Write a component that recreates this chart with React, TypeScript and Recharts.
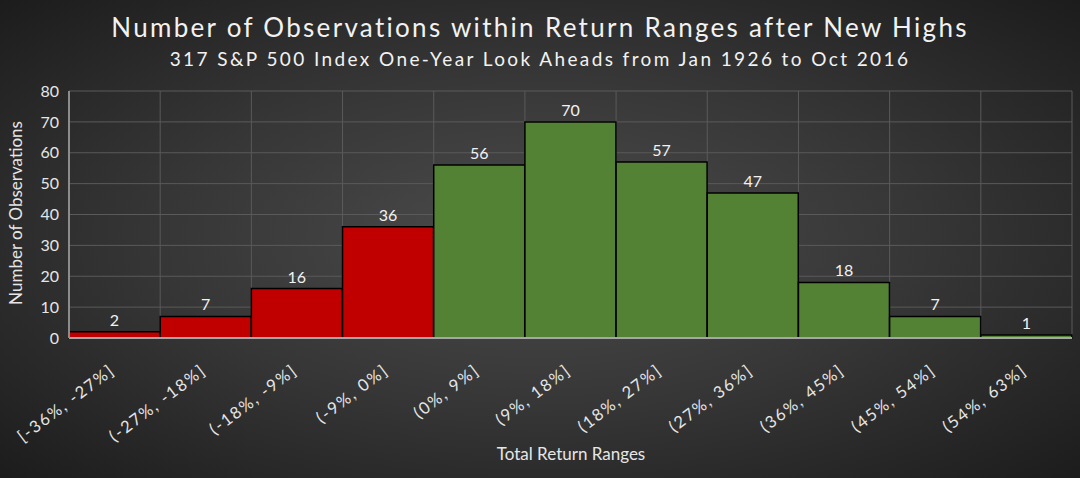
import React from 'react';
import {
  Bar,
  BarChart,
  CartesianGrid,
  Cell,
  LabelList,
  XAxis,
  YAxis
} from 'recharts';

const ranges = [
  '[-36%, -27%]',
  '(-27%, -18%]',
  '(-18%, -9%]',
  '(-9%, 0%]',
  '(0%, 9%]',
  '(9%, 18%]',
  '(18%, 27%]',
  '(27%, 36%]',
  '(36%, 45%]',
  '(45%, 54%]',
  '(54%, 63%]'
];
const observations = [2, 7, 16, 36, 56, 70, 57, 47, 18, 7, 1];
const yTicks = [0, 10, 20, 30, 40, 50, 60, 70, 80];

const data = ranges.map((range, i) => ({ range, count: observations[i] }));

const FONT = "Lato, 'Open Sans', sans-serif";

const RotatedTick = (props: any) => {
  const { x, y, payload } = props;
  return (
    <g transform={`translate(${x - 2},${y + 22}) rotate(-37)`}>
      <text
        x={0}
        y={0}
        dy="0.35em"
        textAnchor="end"
        fill="#e6e6e6"
        fontSize={16.5}
        fontFamily={FONT}
        letterSpacing={1.8}
      >
        {payload.value}
      </text>
    </g>
  );
};

const App: React.FC = () => {
  return (
    <div
      style={{
        position: 'absolute',
        left: 0,
        top: 0,
        width: 1080,
        height: 478,
        background: 'radial-gradient(ellipse at 50% 50%, #4c4c4c 0%, #363636 50%, #1c1c1c 100%)',
        fontFamily: FONT,
        overflow: 'hidden'
      }}
    >
      <div
        style={{
          position: 'absolute',
          top: 11,
          width: 1080,
          textAlign: 'center',
          color: '#f2f2f2',
          fontSize: 26,
          letterSpacing: 2.3
        }}
      >
        Number of Observations within Return Ranges after New Highs
      </div>
      <div
        style={{
          position: 'absolute',
          top: 47,
          width: 1080,
          textAlign: 'center',
          color: '#f2f2f2',
          fontSize: 19,
          letterSpacing: 2.4
        }}
      >
        317 S&amp;P 500 Index One-Year Look Aheads from Jan 1926 to Oct 2016
      </div>
      <div
        style={{
          position: 'absolute',
          left: 15,
          top: 213,
          transform: 'translate(-50%, -50%) rotate(-90deg)',
          whiteSpace: 'nowrap',
          color: '#e6e6e6',
          fontSize: 17
        }}
      >
        Number of Observations
      </div>
      <div
        style={{
          position: 'absolute',
          top: 443,
          left: 571,
          transform: 'translateX(-50%)',
          whiteSpace: 'nowrap',
          color: '#e6e6e6',
          fontSize: 17
        }}
      >
        Total Return Ranges
      </div>
      <BarChart
        width={1080}
        height={478}
        data={data}
        barCategoryGap={0}
        margin={{ top: 91, right: 8, bottom: 40, left: 19 }}
        style={{ position: 'absolute', left: 0, top: 0 }}
      >
        <CartesianGrid
          stroke="#5a5a5a"
          strokeWidth={1}
          verticalCoordinatesGenerator={({ offset }: any) =>
            ranges.map((_, i) => offset.left + ((i + 1) * offset.width) / ranges.length)
          }
        />
        <XAxis
          dataKey="range"
          height={100}
          interval={0}
          tickLine={false}
          axisLine={{ stroke: '#a6a6a6', strokeWidth: 2 }}
          tick={<RotatedTick />}
        />
        <YAxis
          width={50}
          domain={[0, 80]}
          ticks={yTicks}
          tickLine={false}
          axisLine={{ stroke: '#8c8c8c', strokeWidth: 2 }}
          tick={{ fill: '#e6e6e6', fontSize: 16, fontFamily: FONT }}
          tickMargin={4}
        />
        <Bar dataKey="count" stroke="#000" strokeWidth={1.5} isAnimationActive={false}>
          {data.map((d, i) => (
            <Cell key={d.range} fill={i < 4 ? '#c00000' : '#548235'} />
          ))}
          <LabelList
            dataKey="count"
            position="top"
            offset={6}
            fill="#f2f2f2"
            fontSize={16}
            fontFamily={FONT}
          />
        </Bar>
      </BarChart>
    </div>
  );
};

export default App;
